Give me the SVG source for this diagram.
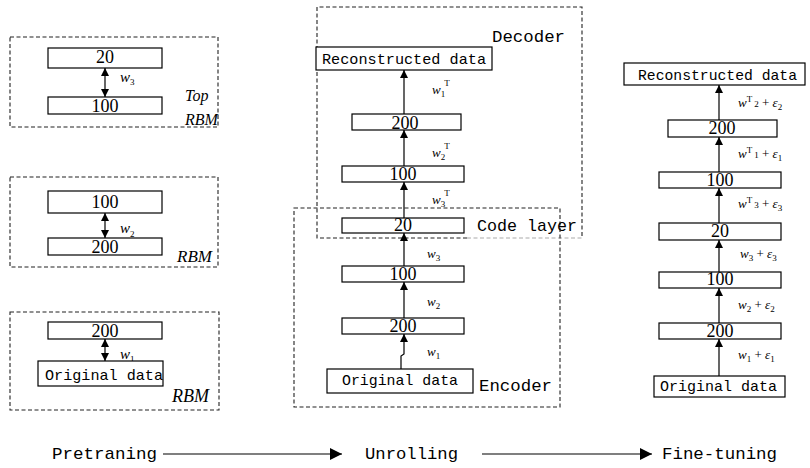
<svg xmlns="http://www.w3.org/2000/svg" width="810" height="468" viewBox="0 0 810 468">
<style>
  .bx{fill:#fff;stroke:#000;stroke-width:1.2}
  .dash{fill:none;stroke:#222;stroke-width:1.1;stroke-dasharray:4 2.5}
  .num{font-family:"Liberation Serif","Times New Roman",serif;font-size:18px;fill:#000;text-anchor:middle}
  .mono{font-family:"Liberation Mono","Courier New",monospace;font-size:15px;fill:#000}
  .big{font-family:"Liberation Mono","Courier New",monospace;font-size:17px;fill:#000}
  .it{font-family:"Liberation Serif","Times New Roman",serif;font-style:italic;fill:#000}
  .wl{font-family:"Liberation Serif","Times New Roman",serif;font-style:italic;fill:#000;font-size:15px}
  .wm{font-family:"Liberation Serif","Times New Roman",serif;font-style:italic;fill:#000;font-size:13px}
  .s{font-size:9px;font-style:normal}
  .ln{stroke:#000;stroke-width:1.2;fill:none}
</style>
<defs>
  <marker id="ah" viewBox="0 0 8 8" refX="8" refY="4" markerWidth="8" markerHeight="8" markerUnits="userSpaceOnUse" orient="auto-start-reverse">
    <path d="M0,0 L8,4 L0,8 z" fill="#000"/>
  </marker>
  <marker id="bh" viewBox="0 0 12 12" refX="12" refY="6" markerWidth="12" markerHeight="12" markerUnits="userSpaceOnUse" orient="auto">
    <path d="M0,0 L12,6 L0,12 z" fill="#000"/>
  </marker>
</defs>

<!-- Pretraining: left column -->
<g id="rbm-top">
  <rect class="dash" x="10" y="37" width="208" height="90"/>
  <rect class="bx" x="48" y="48" width="114" height="20"/>
  <text class="num" x="105" y="63">20</text>
  <rect class="bx" x="48" y="97" width="114" height="17"/>
  <text class="num" x="105" y="112">100</text>
  <text class="it" x="185" y="101" font-size="16">Top</text>
  <text class="it" x="185" y="125" font-size="16">RBM</text>
</g>
<g id="rbm-mid">
  <rect class="dash" x="10" y="177" width="208" height="90"/>
  <rect class="bx" x="48" y="191" width="114" height="22"/>
  <text class="num" x="105" y="208">100</text>
  <rect class="bx" x="48" y="238" width="114" height="17"/>
  <text class="num" x="105" y="253">200</text>
  <text class="it" x="177" y="262" font-size="17">RBM</text>
</g>
<g id="rbm-bot">
  <rect class="dash" x="10" y="312" width="209" height="98"/>
  <rect class="bx" x="48" y="322" width="114" height="17"/>
  <text class="num" x="105" y="337">200</text>
  <text class="wl" x="120" y="359">w<tspan class="s" dy="3">1</tspan></text>
  <rect class="bx" x="38" y="361" width="125" height="25"/>
  <text class="mono" x="45" y="380" textLength="118" lengthAdjust="spacingAndGlyphs">Original data</text>
  <text class="it" x="172" y="402" font-size="18">RBM</text>
</g>

<!-- Unrolling: middle column -->
<g id="decoder">
  <path class="dash" d="M467,238 H317 V7 H582 V238"/>
  <path class="dash" d="M467,238 H582" style="stroke:#aaa"/>
  <text class="big" x="492" y="42" textLength="73" lengthAdjust="spacingAndGlyphs">Decoder</text>
</g>
<g id="encoder">
  <rect class="dash" x="294" y="208" width="266" height="199"/>
  <text class="big" x="479" y="391" textLength="73" lengthAdjust="spacingAndGlyphs">Encoder</text>
</g>
<g id="m-recon">
  <rect class="bx" x="316" y="47" width="176" height="23"/>
  <text class="mono" x="322" y="64" textLength="164" lengthAdjust="spacingAndGlyphs">Reconstructed data</text>
</g>
<g id="m-200a">
  <rect class="bx" x="352" y="114" width="109" height="16"/>
  <text class="num" x="405" y="129">200</text>
</g>
<g id="m-100a">
  <rect class="bx" x="342" y="166" width="122" height="16"/>
  <text class="num" x="403" y="180">100</text>
</g>
<g id="m-20">
  <rect class="bx" x="342" y="218" width="122" height="15"/>
  <text class="num" x="403" y="231">20</text>
  <text class="big" x="477" y="231" textLength="100" lengthAdjust="spacingAndGlyphs">Code layer</text>
</g>
<g id="m-100b">
  <rect class="bx" x="342" y="266" width="122" height="16"/>
  <text class="num" x="403" y="280">100</text>
</g>
<g id="m-200b">
  <rect class="bx" x="342" y="318" width="122" height="16"/>
  <text class="num" x="403" y="332">200</text>
</g>
<g id="m-orig">
  <rect class="bx" x="327" y="369" width="146" height="24"/>
  <text class="mono" x="342" y="385" textLength="116" lengthAdjust="spacingAndGlyphs">Original data</text>
</g>

<!-- Fine-tuning: right column -->
<g id="r-recon">
  <rect class="bx" x="624" y="63" width="181" height="22"/>
  <text class="mono" x="638" y="80" textLength="159" lengthAdjust="spacingAndGlyphs">Reconstructed data</text>
</g>
<g id="r-200a">
  <rect class="bx" x="668" y="120" width="109" height="17"/>
  <text class="num" x="722" y="134">200</text>
</g>
<g id="r-100a">
  <rect class="bx" x="659" y="172" width="122" height="16"/>
  <text class="num" x="720" y="186">100</text>
</g>
<g id="r-20">
  <rect class="bx" x="659" y="223" width="122" height="17"/>
  <text class="num" x="720" y="237">20</text>
</g>
<g id="r-100b">
  <rect class="bx" x="659" y="272" width="122" height="16"/>
  <text class="num" x="720" y="285">100</text>
</g>
<g id="r-200b">
  <rect class="bx" x="659" y="323" width="122" height="16"/>
  <text class="num" x="720" y="337">200</text>
</g>
<g id="r-orig">
  <rect class="bx" x="654" y="376" width="131" height="21"/>
  <text class="mono" x="660" y="391" textLength="117" lengthAdjust="spacingAndGlyphs">Original data</text>
</g>

<!-- Connectors -->
<g id="connectors">
  <line class="ln" x1="105" y1="68" x2="105" y2="97" marker-start="url(#ah)" marker-end="url(#ah)"/>
  <line class="ln" x1="105" y1="213" x2="105" y2="238" marker-start="url(#ah)" marker-end="url(#ah)"/>
  <line class="ln" x1="105" y1="339" x2="105" y2="361" marker-start="url(#ah)" marker-end="url(#ah)"/>
  <line class="ln" x1="404" y1="114" x2="404" y2="70" marker-end="url(#ah)"/>
  <line class="ln" x1="404" y1="166" x2="404" y2="130" marker-end="url(#ah)"/>
  <line class="ln" x1="404" y1="218" x2="404" y2="182" marker-end="url(#ah)"/>
  <line class="ln" x1="404" y1="266" x2="404" y2="233" marker-end="url(#ah)"/>
  <line class="ln" x1="404" y1="318" x2="404" y2="282" marker-end="url(#ah)"/>
  <polyline class="ln" points="401,369 401,356 404,354 404,334" marker-end="url(#ah)"/>
  <line class="ln" x1="719" y1="120" x2="719" y2="85" marker-end="url(#ah)"/>
  <line class="ln" x1="719" y1="172" x2="719" y2="137" marker-end="url(#ah)"/>
  <line class="ln" x1="719" y1="223" x2="719" y2="188" marker-end="url(#ah)"/>
  <line class="ln" x1="719" y1="272" x2="719" y2="240" marker-end="url(#ah)"/>
  <line class="ln" x1="719" y1="323" x2="719" y2="288" marker-end="url(#ah)"/>
  <line class="ln" x1="719" y1="376" x2="719" y2="339" marker-end="url(#ah)"/>
  <line class="ln" x1="163" y1="454" x2="342" y2="454" marker-end="url(#bh)"/>
  <line class="ln" x1="482" y1="454" x2="652" y2="454" marker-end="url(#bh)"/>
</g>

<!-- connector labels -->
<g id="labels">
  <text class="wl" x="120" y="82">w<tspan class="s" dy="3">3</tspan></text>
  <text class="wl" x="120" y="233">w<tspan class="s" dy="4">2</tspan></text>

  <text class="wm" x="432" y="94">w<tspan class="s" dy="3">1</tspan><tspan class="s" dx="-1" dy="-11">T</tspan></text>
  <text class="wm" x="432" y="157">w<tspan class="s" dy="3">2</tspan><tspan class="s" dx="-1" dy="-11">T</tspan></text>
  <text class="wm" x="432" y="204">w<tspan class="s" dy="3">3</tspan><tspan class="s" dx="-1" dy="-11">T</tspan></text>
  <text class="wm" x="427" y="258">w<tspan class="s" dy="3">3</tspan></text>
  <text class="wm" x="427" y="306">w<tspan class="s" dy="3">2</tspan></text>
  <text class="wm" x="427" y="356">w<tspan class="s" dy="3">1</tspan></text>

  <text class="wm" x="738" y="107">w<tspan class="s" dy="-5">T</tspan><tspan class="s" dy="5"> 2</tspan><tspan font-style="normal"> + </tspan>ε<tspan class="s" dy="3">2</tspan></text>
  <text class="wm" x="738" y="158">w<tspan class="s" dy="-5">T</tspan><tspan class="s" dy="5"> 1</tspan><tspan font-style="normal"> + </tspan>ε<tspan class="s" dy="3">1</tspan></text>
  <text class="wm" x="738" y="208">w<tspan class="s" dy="-5">T</tspan><tspan class="s" dy="5"> 3</tspan><tspan font-style="normal"> + </tspan>ε<tspan class="s" dy="3">3</tspan></text>
  <text class="wm" x="740" y="258">w<tspan class="s" dy="3">3</tspan><tspan font-style="normal" dy="-3"> + </tspan>ε<tspan class="s" dy="3">3</tspan></text>
  <text class="wm" x="738" y="309">w<tspan class="s" dy="3">2</tspan><tspan font-style="normal" dy="-3"> + </tspan>ε<tspan class="s" dy="3">2</tspan></text>
  <text class="wm" x="738" y="359">w<tspan class="s" dy="3">1</tspan><tspan font-style="normal" dy="-3"> + </tspan>ε<tspan class="s" dy="3">1</tspan></text>
</g>

<!-- stage labels -->
<g id="stages">
  <text class="big" x="52" y="459" textLength="105" lengthAdjust="spacingAndGlyphs">Pretraning</text>
  <text class="big" x="365" y="459" textLength="93" lengthAdjust="spacingAndGlyphs">Unrolling</text>
  <text class="big" x="662" y="459" textLength="115" lengthAdjust="spacingAndGlyphs">Fine-tuning</text>
</g>
</svg>
